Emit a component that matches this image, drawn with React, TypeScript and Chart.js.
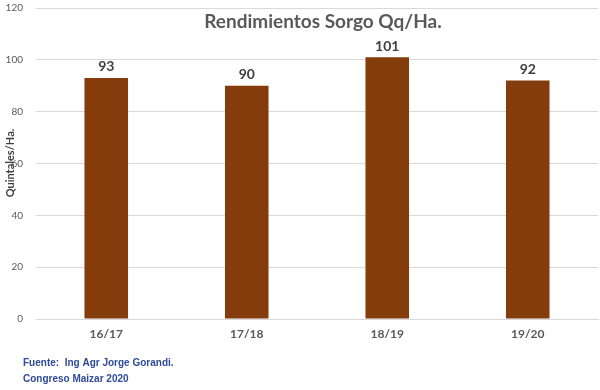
import React, { useEffect, useRef } from "react";
import { Chart, registerables } from "chart.js";

Chart.register(...registerables);

const categories = ["16/17", "17/18", "18/19", "19/20"];
const rendimientos = [93, 90, 101, 92];
const yTicks = [0, 20, 40, 60, 80, 100, 120];
const titleText = "Rendimientos Sorgo Qq/Ha.";
const yAxisTitle = "Quintales/Ha.";
const footnotes = ["Fuente:  Ing Agr Jorge Gorandi.", "Congreso Maizar 2020"];

const FONT = "Lato, 'Open Sans', sans-serif";

const textPlugin = {
  id: "texts",
  afterDatasetsDraw(chart: any) {
    const ctx = chart.ctx;
    ctx.save();
    // data labels
    const meta = chart.getDatasetMeta(0);
    ctx.font = `bold 14px ${FONT}`;
    ctx.fillStyle = "#404040";
    ctx.textAlign = "center";
    ctx.textBaseline = "bottom";
    meta.data.forEach((bar: any, i: number) => {
      ctx.fillText(String(rendimientos[i]), bar.x, bar.y - 4);
    });
    // title
    ctx.font = `bold 19px ${FONT}`;
    ctx.fillStyle = "#595959";
    ctx.textBaseline = "middle";
    ctx.fillText(titleText, 323, 22);
    // y axis title
    ctx.save();
    ctx.translate(10, 163);
    ctx.rotate(-Math.PI / 2);
    ctx.font = `bold 11px ${FONT}`;
    ctx.fillStyle = "#404040";
    ctx.fillText(yAxisTitle, 0, 0);
    ctx.restore();
    // footnotes
    ctx.font = `bold 10px 'Liberation Sans', Arial, sans-serif`;
    ctx.fillStyle = "#2E4A9A";
    ctx.textAlign = "left";
    ctx.fillText(footnotes[0], 23, 363);
    ctx.fillText(footnotes[1], 23, 379);
    ctx.restore();
  },
};

export default function App() {
  const ref = useRef<HTMLCanvasElement>(null);
  useEffect(() => {
    const chart = new Chart(ref.current!, {
      type: "bar",
      data: {
        labels: categories,
        datasets: [
          {
            data: rendimientos,
            backgroundColor: "#843C0C",
            borderWidth: 0,
            barPercentage: 0.62,
            categoryPercentage: 0.5,
          },
        ],
      },
      options: {
        animation: false,
        responsive: false,
        layout: { padding: { top: 8, right: 2, left: 0, bottom: 0 } },
        plugins: { legend: { display: false }, tooltip: { enabled: false } },
        scales: {
          x: {
            grid: { display: false, drawTicks: false },
            border: { display: true, color: "#D9D9D9", width: 1 },
            ticks: {
              padding: 8,
              color: "#595959",
              font: { family: FONT, size: 12, weight: "bold" },
            },
            afterFit(scale: any) {
              scale.height = 71;
              scale.paddingLeft = 0;
              scale.paddingRight = 0;
            },
          },
          y: {
            min: 0,
            max: 120,
            afterBuildTicks(scale: any) {
              scale.ticks = yTicks.map((v) => ({ value: v }));
            },
            grid: { color: "#D9D9D9", drawTicks: false },
            border: { display: false },
            ticks: {
              padding: 13,
              color: "#595959",
              font: { family: FONT, size: 10 },
            },
            afterFit(scale: any) {
              scale.width = 36;
              scale.paddingTop = 0;
              scale.paddingBottom = 0;
            },
          },
        },
      },
      plugins: [textPlugin],
    });
    return () => chart.destroy();
  }, []);
  return (
    <div style={{ position: "absolute", left: 0, top: 0, width: 600, height: 390, background: "#fff" }}>
      <canvas ref={ref} width={600} height={390} />
    </div>
  );
}
